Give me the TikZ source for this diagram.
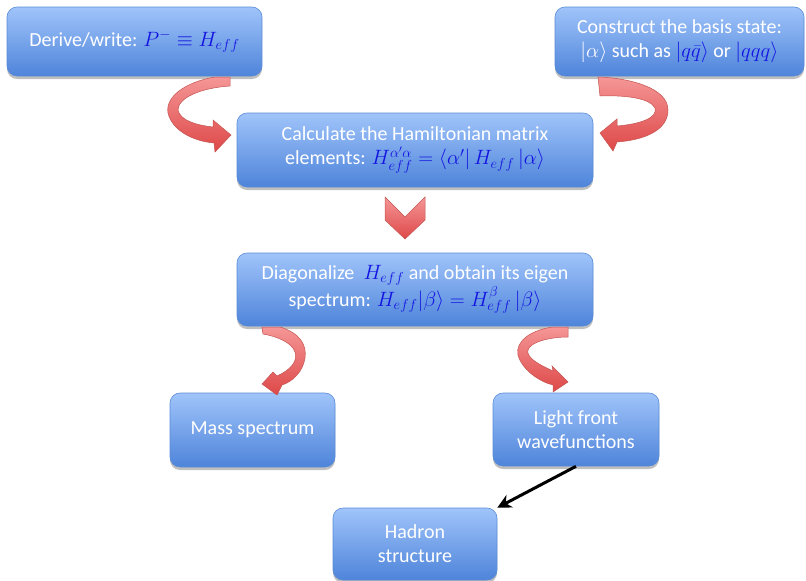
\documentclass[tikz,border=0pt]{standalone}
\usepackage{fontspec}
\setmainfont{Carlito}
\usetikzlibrary{shadows,arrows.meta}
\definecolor{boxtop}{RGB}{160,196,250}
\definecolor{boxbot}{RGB}{78,132,218}
\definecolor{boxedge}{RGB}{90,140,215}
\definecolor{mathblue}{RGB}{20,20,225}
\definecolor{rtop}{RGB}{245,150,150}
\definecolor{rbot}{RGB}{222,72,72}
\definecolor{redge}{RGB}{195,85,82}
\newcommand{\mb}[1]{\textcolor{mathblue}{$#1$}}
\tikzset{
  flowbox/.style={draw=boxedge, line width=0.6pt, rounded corners=10pt,
    top color=boxtop, bottom color=boxbot, text=white, align=center,
    inner sep=0pt, font=\fontsize{20}{24}\selectfont,
    drop shadow={shadow xshift=0pt, shadow yshift=-3pt, opacity=0.25, fill=black}},
  redarrow/.style={draw=redge, line width=0.5pt, top color=rtop, bottom color=rbot},
  linkarrow/.style={line width=3pt, -{Stealth[length=14pt,width=14pt]}}
}
\begin{document}
\begin{tikzpicture}[x=1pt,y=-1pt]
\useasboundingbox (0,0) rectangle (806,581);
% boxes
\node[flowbox, minimum width=255pt, minimum height=69pt] (A) at (134.5,41.5)
  {Derive/write: \mb{P^-\equiv H_{eff}}};
\node[flowbox, minimum width=249pt, minimum height=69pt] (B) at (679.5,41.5)
  {Construct the basis state:\\ $|\alpha\rangle$ such as \mb{|q\bar q\rangle} or \mb{|qqq\rangle}};
\node[flowbox, minimum width=356pt, minimum height=74pt] (C) at (415,150)
  {Calculate the Hamiltonian matrix\\ elements: \mb{H_{eff}^{\alpha'\alpha} = \langle\alpha'|\,H_{eff}\,|\alpha\rangle}};
\node[flowbox, minimum width=356pt, minimum height=73pt] (D) at (415,289.5)
  {Diagonalize ~\mb{H_{eff}} and obtain its eigen\\ spectrum: \mb{H_{eff}|\beta\rangle = H_{eff}^{\beta}\,|\beta\rangle}};
\node[flowbox, minimum width=165pt, minimum height=74pt] (E) at (252.5,430)
  {Mass spectrum};
\node[flowbox, minimum width=166pt, minimum height=73pt] (F) at (576,429.5)
  {Light front\\ wavefunctions};
\node[flowbox, minimum width=164pt, minimum height=72pt] (G) at (415,544)
  {Hadron\\ structure};
% curved red arrows
\path[redarrow] (215,77) .. controls (185,82) and (165,97) .. (168,113)
  .. controls (172,130) and (192,141) .. (214,143) -- (215,152) -- (231,135)
  -- (213,120) -- (213,127) .. controls (195,125) and (180,120) .. (178,110)
  .. controls (178,98) and (200,88) .. (230,86) -- (230,77) -- cycle;
\path[redarrow] (598,77) .. controls (630,78) and (668,88) .. (668,110)
  .. controls (668,130) and (645,140) .. (617,142) -- (613,151) -- (600,133)
  -- (617,119) -- (617,126) .. controls (640,124) and (658,118) .. (655,108)
  .. controls (650,98) and (625,95) .. (600,96) -- cycle;
\path[redarrow] (280,327) .. controls (300,333) and (307,345) .. (305,358)
  .. controls (303,372) and (292,382) .. (282,385) -- (277,395) -- (262,384)
  -- (273,372) -- (277,376) .. controls (290,370) and (298,362) .. (295,352)
  .. controls (292,342) and (275,336) .. (263,334) -- (262,327) -- cycle;
\path[redarrow] (553,327) .. controls (530,330) and (515,342) .. (518,355)
  .. controls (522,370) and (540,382) .. (553,385) -- (553,392) -- (568,382)
  -- (552,366) -- (553,371) .. controls (540,365) and (526,358) .. (528,350)
  .. controls (530,342) and (550,337) .. (568,337) -- (568,327) -- cycle;
% chevron
\path[redarrow] (385,197) -- (405,217) -- (425,197) -- (425,220) -- (405,239) -- (385,220) -- cycle;
% black arrow
\draw[linkarrow] (F.south) -- (G.north east);
\end{tikzpicture}
\end{document}
